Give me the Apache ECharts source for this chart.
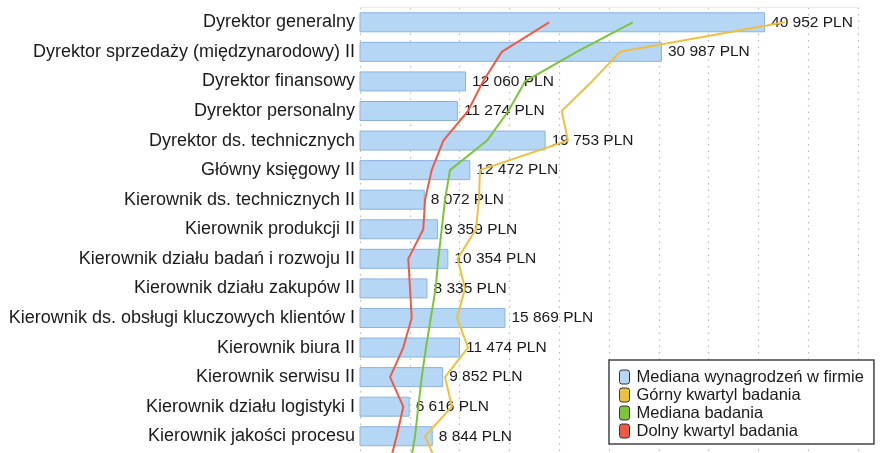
<!DOCTYPE html>
<html>
<head>
<meta charset="utf-8">
<script src="https://cdn.jsdelivr.net/npm/echarts@6.0.0/dist/echarts.min.js"></script>
<style>
html, body { margin: 0; padding: 0; background: #fff; }
#main { width: 892px; height: 453px; }
</style>
</head>
<body>
<div id="main"></div>
<script>
// stanowiska (ostatnie jest ucięte pod dolną krawędzią)
var categories = [
	"Dyrektor generalny",
	"Dyrektor sprzedaży (międzynarodowy) II",
	"Dyrektor finansowy",
	"Dyrektor personalny",
	"Dyrektor ds. technicznych",
	"Główny księgowy II",
	"Kierownik ds. technicznych II",
	"Kierownik produkcji II",
	"Kierownik działu badań i rozwoju II",
	"Kierownik działu zakupów II",
	"Kierownik ds. obsługi kluczowych klientów I",
	"Kierownik biura II",
	"Kierownik serwisu II",
	"Kierownik działu logistyki I",
	"Kierownik jakości procesu",
	""
];
// mediana wynagrodzeń w firmie
var firmMedian = [40952, 30987, 12060, 11274, 19753, 12472, 8072, 9359, 10354, 8335, 15869, 11474, 9852, 6616, 8844, null];
// górny kwartyl badania
var upperQuartile = [42880, 26940, 24230, 21300, 21910, 13410, 13310, 13020, 11240, 11960, 11190, 12250, 10030, 10700, 8100, 9350];
// mediana badania
var surveyMedian = [28160, 22750, 17760, 16150, 14090, 10510, 10030, 9710, 9380, 9130, 8650, 8190, 7780, 7450, 7130, 6650];
// dolny kwartyl badania
var lowerQuartile = [20080, 15510, 13700, 12250, 9870, 8740, 8100, 7930, 6480, 6650, 6810, 6000, 4720, 6000, 5360, 4620];

var seriesNames = ["Mediana wynagrodzeń w firmie", "Górny kwartyl badania", "Mediana badania", "Dolny kwartyl badania"];

var font = "'Liberation Sans', Arial, sans-serif";

function pln(v) {
	return String(v).replace(/\B(?=(\d{3})+(?!\d))/g, " ") + " PLN";
}

function quartileLine(name, data, color) {
	return {
		name: name,
		type: "line",
		data: data,
		xAxisIndex: 0,
		z: 4,
		symbol: "none",
		smooth: false,
		itemStyle: { color: color, borderColor: "#333", borderWidth: 1 },
		lineStyle: { color: color, width: 2 }
	};
}

var chart = echarts.init(document.getElementById("main"));

var option = {
	animation: false,
	// siatka wychodzi poza dół obrazka, żeby 16. wiersz był ucięty
	grid: { left: 360, right: 34, top: 7.5, height: 473.1, outerBoundsMode: "none", containLabel: false },
	legend: {
		data: seriesNames,
		orient: "vertical",
		left: 609,
		top: 360,
		icon: "roundRect",
		itemWidth: 10,
		itemHeight: 14,
		itemGap: 0,
		padding: [8, 10, 4, 10],
		backgroundColor: "#fff",
		borderColor: "#444",
		borderWidth: 1.5,
		itemStyle: { borderColor: "#333", borderWidth: 1 },
		textStyle: { fontFamily: font, fontSize: 16.5, color: "#1a1a1a", lineHeight: 18, padding: [0, 0, 0, 2] }
	},
	xAxis: [
		{
			// skala wartości słupków i linii
			type: "value",
			min: 1816,
			max: 49932,
			show: false,
			splitLine: { show: false }
		},
		{
			// siatka pionowa co 1 podziałkę
			type: "value",
			position: "top",
			min: 0,
			max: 10,
			interval: 1,
			axisLabel: { show: false },
			axisTick: { show: false },
			axisLine: { show: true, lineStyle: { color: "#ececec", width: 1 } },
			splitLine: { show: true, lineStyle: { color: "#b8b8b8", width: 1.2, type: [1.5, 5] } }
		}
	],
	yAxis: {
		type: "category",
		inverse: true,
		data: categories,
		axisLine: { show: false },
		axisTick: { show: false },
		axisLabel: { fontFamily: font, fontSize: 18, color: "#1a1a1a", margin: 5 }
	},
	series: [
		{
			name: seriesNames[0],
			type: "bar",
			data: firmMedian,
			xAxisIndex: 0,
			barWidth: 20,
			itemStyle: { color: "#b6d6f5", borderColor: "#8cb2e0", borderWidth: 1 },
			label: {
				show: true,
				position: "right",
				distance: 6,
				fontFamily: font,
				fontSize: 15.5,
				color: "#1a1a1a",
				formatter: function (p) { return pln(p.value); }
			}
		},
		quartileLine(seriesNames[1], upperQuartile, "#edc040"),
		quartileLine(seriesNames[2], surveyMedian, "#7cc43a"),
		quartileLine(seriesNames[3], lowerQuartile, "#ee5a44")
	]
};

chart.setOption(option);
</script>
</body>
</html>
